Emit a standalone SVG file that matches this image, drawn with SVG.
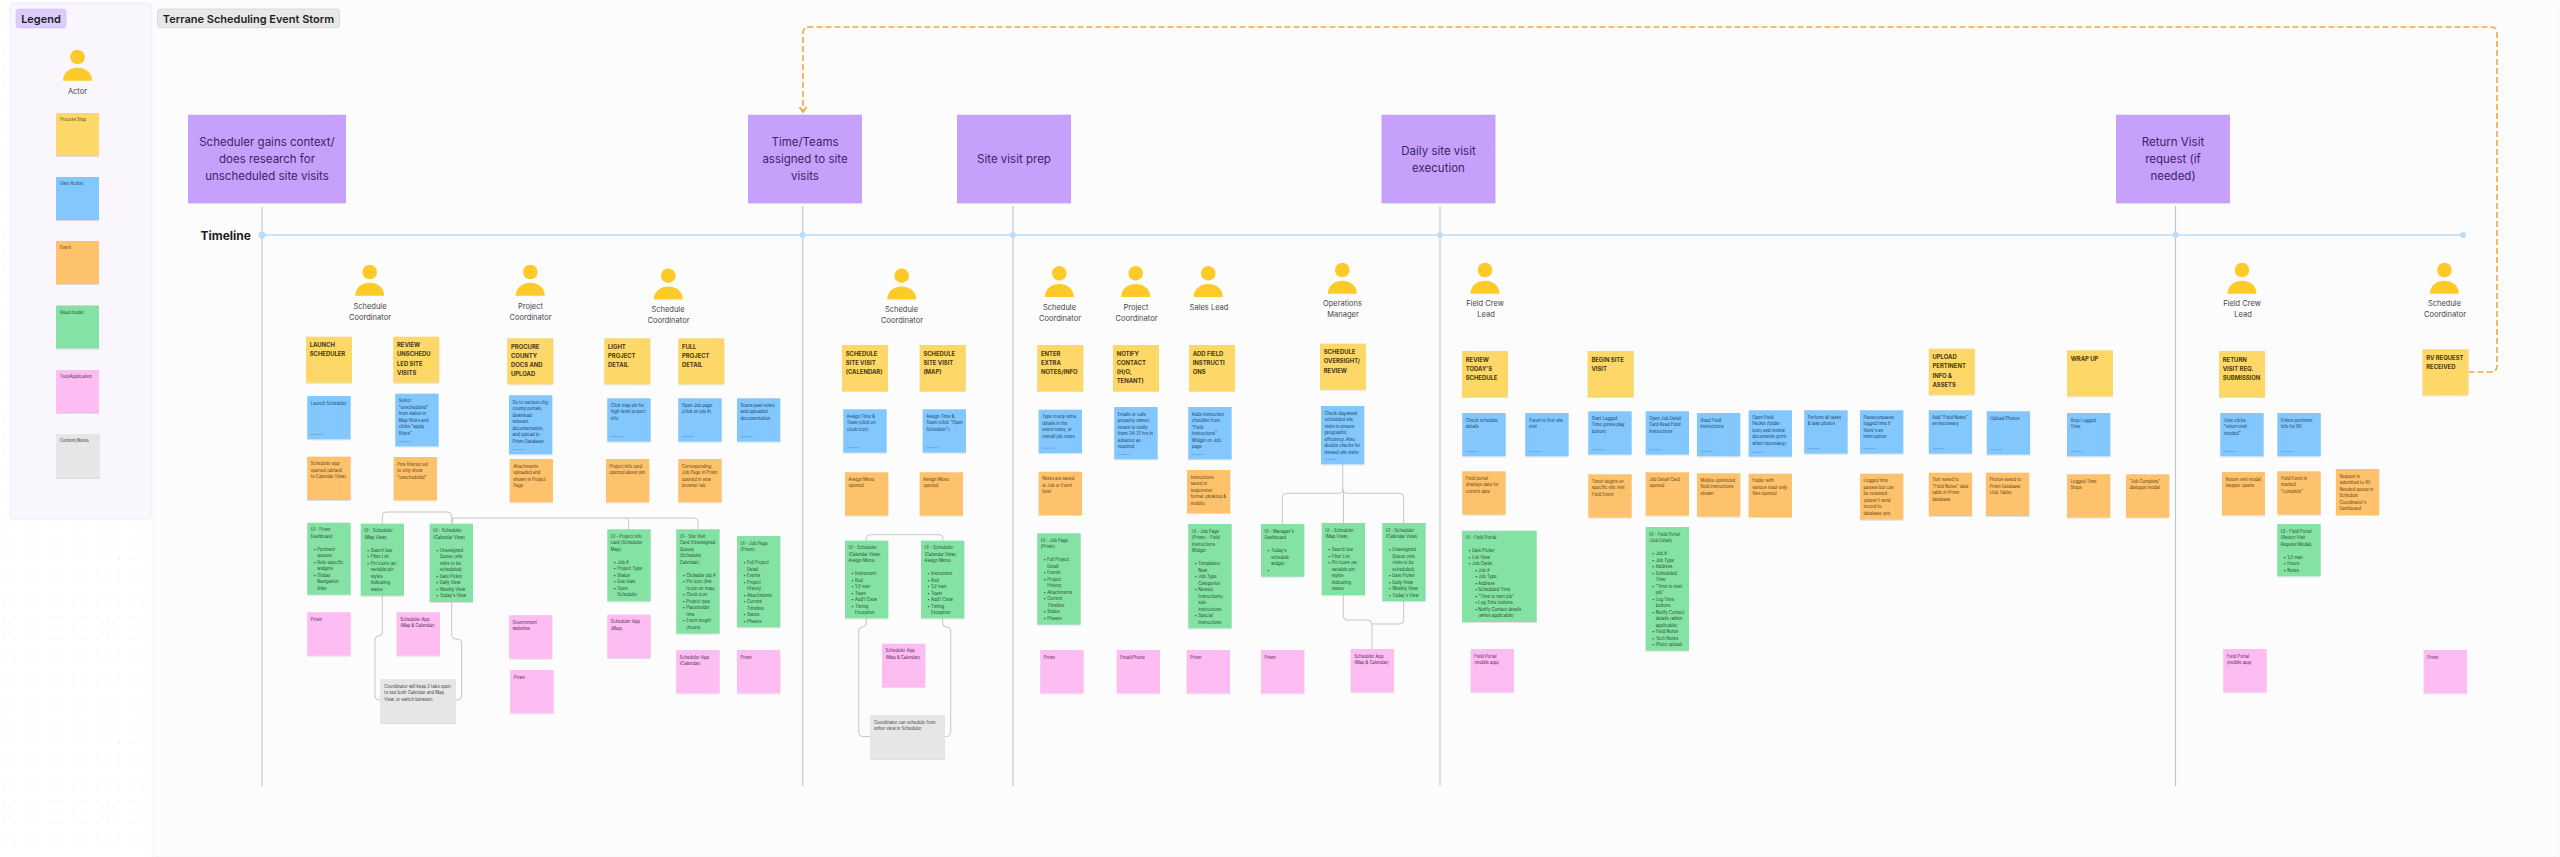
<svg xmlns="http://www.w3.org/2000/svg" width="2560" height="857" viewBox="0 0 2560 857">
<defs>
<pattern id="dots" width="11.5" height="11.5" patternUnits="userSpaceOnUse"><circle cx="4.3" cy="7" r="0.45" fill="#b9b9bd"/></pattern>
<filter id="sh" x="-10%" y="-10%" width="120%" height="120%"><feDropShadow dx="0" dy="0.7" stdDeviation="0.7" flood-color="#000" flood-opacity="0.16"/></filter>
<marker id="chev" markerWidth="9" markerHeight="9" refX="6" refY="4" orient="auto" markerUnits="userSpaceOnUse"><path d="M1 0.5 L6 4 L1 7.5" fill="none" stroke="#f4a63c" stroke-width="1.6"/></marker>
<g id="actor"><circle r="7.3" fill="#fdca2a"/><path d="M-14.5 23.7 C-14.5 15 -7 10.7 0 10.7 S14.5 15 14.5 23.7 Z" fill="#fdca2a"/></g>
</defs>
<style>
text{font-family:Inter,"Liberation Sans",sans-serif}
.y rect,.b rect,.o rect,.g rect,.k rect,.e rect{filter:url(#sh)}
.y rect{fill:#fdd868}.b rect{fill:#82c7fe}.o rect{fill:#fec26c}.g rect{fill:#85e2a5}.k rect{fill:#fdbdf2}.e rect{fill:#e6e6e6}
rect.sig{fill:#3f6f9c;opacity:.4;filter:none}
.n{font-size:4.2px}
.y .n,.o .n{fill:#5a3d10}.b .n{fill:#143c60}.g .n{fill:#1d4a2e}.k .n{fill:#4c1f48}.e .n{fill:#3a3a3a}
.p{font-size:5.9px;font-weight:700;fill:#4b3a12}
.a{font-size:7.5px;fill:#454548;text-anchor:middle}
.h{fill:#c5a1fb}.ht{font-size:11.5px;fill:#3c2468;text-anchor:middle}
.v{stroke:#c4c4c8;stroke-width:1.1;fill:none}
.c{stroke:#c6c6ca;stroke-width:1;fill:none}
.tl{stroke:#b9defb;stroke-width:1.4;fill:none}.td{fill:#b9defb}
</style>
<rect width="2560" height="857" fill="#ffffff"/>
<rect width="2560" height="857" fill="url(#dots)"/>
<rect x="152" y="2" width="2408" height="855" fill="#fcfcfd" stroke="#f2f2f5" stroke-width="0.7"/>
<g id="legend-panel"><rect x="10" y="3" width="141" height="516" rx="2" fill="#f9f6fe" stroke="#eee9f8" stroke-width="0.8"/></g>
<g id="legend-title"><rect x="16" y="9" width="50" height="19" rx="3" fill="#dccbfb" stroke="#d2bff6" stroke-width="0.6"/><text x="41" y="23" text-anchor="middle" font-size="11" font-weight="600" fill="#1d1d20">Legend</text></g>
<g id="board-title"><rect x="157.500" y="9" width="182" height="18.500" rx="3" fill="#e8e8e8" stroke="#cfcfcf" stroke-width="0.7"/><text x="248.500" y="23" text-anchor="middle" font-size="11" font-weight="600" fill="#1d1d20">Terrane Scheduling Event Storm</text></g>
<g id="legend-actor"><use href="#actor" x="77.500" y="57"/><text class="a" x="77.500" y="94">Actor</text></g>
<g id="legend-process" class="y" transform="translate(56 113)"><rect width="43" height="43"/><text class="n" x="4" y="8">Process Step</text></g>
<g id="legend-user" class="b" transform="translate(56 177)"><rect width="43" height="43"/><text class="n" x="4" y="8">User Action</text></g>
<g id="legend-event" class="o" transform="translate(56 241)"><rect width="43" height="43"/><text class="n" x="4" y="8">Event</text></g>
<g id="legend-read" class="g" transform="translate(56 305.500)"><rect width="43" height="43"/><text class="n" x="4" y="8">Read model</text></g>
<g id="legend-tool" class="k" transform="translate(56 370)"><rect width="43" height="43"/><text class="n" x="4" y="8">Tool/Application</text></g>
<g id="legend-notes" class="e" transform="translate(56 434)"><rect width="44" height="44"/><text class="n" x="4" y="8">Content/Notes</text></g>

<g id="connectors">
<path class="v" d="M262 207V786M802.700 206V786M1013 206V786M1440 206V786M2175.500 206V786"/>
<path class="tl" d="M262 235H2463"/>
<circle class="td" cx="262" cy="235" r="3.500"/><circle class="td" cx="802.700" cy="235" r="3"/><circle class="td" cx="1013" cy="235" r="3"/><circle class="td" cx="1440" cy="235" r="3"/><circle class="td" cx="2175.500" cy="235" r="3"/><circle class="td" cx="2463" cy="235" r="3"/>
<path d="M2468.500 372H2491Q2497 372 2497 366V33Q2497 27 2491 27H809Q803 27 803 33V112" fill="none" stroke="#f4a63c" stroke-width="1.600" stroke-dasharray="6 3" marker-end="url(#chev)"/>
<path class="c" d="M382.300 523.700V516Q382.300 512 386.300 512H447.700Q451.700 512 451.700 516V523.700"/>
<path class="c" d="M452.700 523.700V518H624.700Q628.700 518 628.700 522V529.300M624.700 518H694Q698 518 698 522V529.300"/>
<path class="c" d="M382.300 595.700V632Q382.300 636 378.300 636Q375 636 375 640V696Q375 700 379 700H380.300"/>
<path class="c" d="M451.700 602V635Q451.700 639 455.700 639H457.700Q461.700 639 461.700 643V696Q461.700 700 457.700 700H456"/>
<path class="c" d="M866.300 540.700V538.700Q866.300 534.700 870.300 534.700H939Q943 534.700 943 538.700V540.700"/>
<path class="c" d="M866.300 618.400V623Q866.300 627 862.300 627Q858.700 627 858.700 631V732.500Q858.700 736.500 862.700 736.500H870"/>
<path class="c" d="M942.700 618.400V623Q942.700 627 946.700 627Q950.700 627 950.700 631V732.500Q950.700 736.500 946.700 736.500H945"/>
<path class="c" d="M1342.700 464.300V489.300Q1342.700 493.300 1338.700 493.300H1286.300Q1282.300 493.300 1282.300 497.300V524M1342.700 489.300Q1342.700 493.300 1346.700 493.300H1399.700Q1403.700 493.300 1403.700 497.300V523M1343.500 490V523"/>
<path class="c" d="M1343.300 595V616Q1343.300 620 1347.300 620H1368Q1372 620 1372 624V649M1403.700 601V620Q1403.700 624 1399.700 624H1372"/>
</g>

<g id="phase-1"><rect class="h" x="188" y="114.700" width="158" height="88.700"/><text class="ht" x="267" y="146">Scheduler gains context/</text><text class="ht" x="267" y="163.200">does research for</text><text class="ht" x="267" y="180.400">unscheduled site visits</text></g>
<g id="phase-2"><rect class="h" x="748" y="114.700" width="114" height="88.700"/><text class="ht" x="805" y="146">Time/Teams</text><text class="ht" x="805" y="163.200">assigned to site</text><text class="ht" x="805" y="180.400">visits</text></g>
<g id="phase-3"><rect class="h" x="957" y="114.700" width="114" height="88.700"/><text class="ht" x="1014" y="163.200">Site visit prep</text></g>
<g id="phase-4"><rect class="h" x="1381.500" y="114.700" width="114" height="88.700"/><text class="ht" x="1438.500" y="154.500">Daily site visit</text><text class="ht" x="1438.500" y="171.700">execution</text></g>
<g id="phase-5"><rect class="h" x="2116" y="114.700" width="114" height="88.700"/><text class="ht" x="2173" y="146">Return Visit</text><text class="ht" x="2173" y="163.200">request (if</text><text class="ht" x="2173" y="180.400">needed)</text></g>
<text id="timeline-label" x="200.500" y="239.500" font-size="12" font-weight="700" fill="#1d1d20">Timeline</text>

<g id="actor-1"><use href="#actor" x="369.700" y="272"/><text class="a" x="370" y="309">Schedule</text><text class="a" x="370" y="320">Coordinator</text></g>
<g id="actor-2"><use href="#actor" x="530.300" y="272"/><text class="a" x="530.500" y="309">Project</text><text class="a" x="530.500" y="320">Coordinator</text></g>
<g id="actor-3"><use href="#actor" x="668.300" y="275.700"/><text class="a" x="668" y="312">Schedule</text><text class="a" x="668.500" y="323">Coordinator</text></g>
<g id="actor-4"><use href="#actor" x="901.700" y="275.700"/><text class="a" x="901.500" y="312">Schedule</text><text class="a" x="902" y="323">Coordinator</text></g>
<g id="actor-5"><use href="#actor" x="1059.300" y="273.300"/><text class="a" x="1059.500" y="309.500">Schedule</text><text class="a" x="1060" y="320.500">Coordinator</text></g>
<g id="actor-6"><use href="#actor" x="1135.700" y="273.300"/><text class="a" x="1136" y="309.500">Project</text><text class="a" x="1136.500" y="320.500">Coordinator</text></g>
<g id="actor-7"><use href="#actor" x="1208.300" y="273.300"/><text class="a" x="1209" y="309.500">Sales Lead</text></g>
<g id="actor-8"><use href="#actor" x="1342.300" y="270"/><text class="a" x="1342.500" y="306">Operations</text><text class="a" x="1343" y="317">Manager</text></g>
<g id="actor-9"><use href="#actor" x="1485" y="270"/><text class="a" x="1485" y="306">Field Crew</text><text class="a" x="1486" y="317">Lead</text></g>
<g id="actor-10"><use href="#actor" x="2242" y="270"/><text class="a" x="2242" y="306">Field Crew</text><text class="a" x="2243" y="317">Lead</text></g>
<g id="actor-11"><use href="#actor" x="2444.400" y="270"/><text class="a" x="2444.500" y="306">Schedule</text><text class="a" x="2445" y="317">Coordinator</text></g>

<g id="p1" class="y" transform="translate(306 336.700)"><rect width="46" height="46"/><text class="p" y="10.500"><tspan x="3.700">LAUNCH</tspan><tspan x="3.700" dy="9.170">SCHEDULER</tspan></text></g>
<g id="p2" class="y" transform="translate(393.300 336.700)"><rect width="46" height="46"/><text class="p" y="10.500"><tspan x="3.700">REVIEW</tspan><tspan x="3.700" dy="9.170">UNSCHEDU</tspan><tspan x="3.700" dy="9.170">LED SITE</tspan><tspan x="3.700" dy="9.170">VISITS</tspan></text></g>
<g id="p3" class="y" transform="translate(507.300 338.300)"><rect width="46" height="46"/><text class="p" y="10.500"><tspan x="3.700">PROCURE</tspan><tspan x="3.700" dy="9.170">COUNTY</tspan><tspan x="3.700" dy="9.170">DOCS AND</tspan><tspan x="3.700" dy="9.170">UPLOAD</tspan></text></g>
<g id="p4" class="y" transform="translate(604.300 338.300)"><rect width="46" height="46"/><text class="p" y="10.500"><tspan x="3.700">LIGHT</tspan><tspan x="3.700" dy="9.170">PROJECT</tspan><tspan x="3.700" dy="9.170">DETAIL</tspan></text></g>
<g id="p5" class="y" transform="translate(678.300 338.300)"><rect width="46" height="46"/><text class="p" y="10.500"><tspan x="3.700">FULL</tspan><tspan x="3.700" dy="9.170">PROJECT</tspan><tspan x="3.700" dy="9.170">DETAIL</tspan></text></g>
<g id="p6" class="y" transform="translate(842 345)"><rect width="46" height="46"/><text class="p" y="10.500"><tspan x="3.700">SCHEDULE</tspan><tspan x="3.700" dy="9.170">SITE VISIT</tspan><tspan x="3.700" dy="9.170">(CALENDAR)</tspan></text></g>
<g id="p7" class="y" transform="translate(919.700 345)"><rect width="46" height="46"/><text class="p" y="10.500"><tspan x="3.700">SCHEDULE</tspan><tspan x="3.700" dy="9.170">SITE VISIT</tspan><tspan x="3.700" dy="9.170">(MAP)</tspan></text></g>
<g id="p8" class="y" transform="translate(1037.300 345)"><rect width="46" height="46"/><text class="p" y="10.500"><tspan x="3.700">ENTER</tspan><tspan x="3.700" dy="9.170">EXTRA</tspan><tspan x="3.700" dy="9.170">NOTES/INFO</tspan></text></g>
<g id="p9" class="y" transform="translate(1113 345)"><rect width="46" height="46"/><text class="p" y="10.500"><tspan x="3.700">NOTIFY</tspan><tspan x="3.700" dy="9.170">CONTACT</tspan><tspan x="3.700" dy="9.170">(H/O,</tspan><tspan x="3.700" dy="9.170">TENANT)</tspan></text></g>
<g id="p10" class="y" transform="translate(1189 345)"><rect width="46" height="46"/><text class="p" y="10.500"><tspan x="3.700">ADD FIELD</tspan><tspan x="3.700" dy="9.170">INSTRUCTI</tspan><tspan x="3.700" dy="9.170">ONS</tspan></text></g>
<g id="p11" class="y" transform="translate(1320 343.700)"><rect width="46" height="46"/><text class="p" y="10.500"><tspan x="3.700">SCHEDULE</tspan><tspan x="3.700" dy="9.170">OVERSIGHT/</tspan><tspan x="3.700" dy="9.170">REVIEW</tspan></text></g>
<g id="p12" class="y" transform="translate(1462 351)"><rect width="46" height="46"/><text class="p" y="10.500"><tspan x="3.700">REVIEW</tspan><tspan x="3.700" dy="9.170">TODAY'S</tspan><tspan x="3.700" dy="9.170">SCHEDULE</tspan></text></g>
<g id="p13" class="y" transform="translate(1587.700 351)"><rect width="46" height="46"/><text class="p" y="10.500"><tspan x="3.700">BEGIN SITE</tspan><tspan x="3.700" dy="9.170">VISIT</tspan></text></g>
<g id="p14" class="y" transform="translate(1928.800 348.700)"><rect width="46" height="46"/><text class="p" y="10.500"><tspan x="3.700">UPLOAD</tspan><tspan x="3.700" dy="9.170">PERTINENT</tspan><tspan x="3.700" dy="9.170">INFO &amp;</tspan><tspan x="3.700" dy="9.170">ASSETS</tspan></text></g>
<g id="p15" class="y" transform="translate(2067 350.300)"><rect width="46" height="46"/><text class="p" y="10.500"><tspan x="3.700">WRAP UP</tspan></text></g>
<g id="p16" class="y" transform="translate(2219 351)"><rect width="46" height="46"/><text class="p" y="10.500"><tspan x="3.700">RETURN</tspan><tspan x="3.700" dy="9.170">VISIT REQ.</tspan><tspan x="3.700" dy="9.170">SUBMISSION</tspan></text></g>
<g id="p17" class="y" transform="translate(2422.500 349.300)"><rect width="46" height="46"/><text class="p" y="10.500"><tspan x="3.700">RV REQUEST</tspan><tspan x="3.700" dy="9.170">RECEIVED</tspan></text></g>

<g id="u1" class="b" transform="translate(307.300 396)"><rect width="43.300" height="43.300"/><rect class="sig" x="3.500" y="38" width="12" height="0.800"/><text class="n" y="8.500"><tspan x="3.500">Launch Scheduler</tspan></text></g>
<g id="u2" class="b" transform="translate(395.300 393.700)"><rect width="43.300" height="52.700"/><rect class="sig" x="3.500" y="47.400" width="12" height="0.800"/><text class="n" y="8.500"><tspan x="3.500">Select</tspan><tspan x="3.500" dy="6.500">"unscheduled"</tspan><tspan x="3.500" dy="6.500">from status in</tspan><tspan x="3.500" dy="6.500">Map filters and</tspan><tspan x="3.500" dy="6.500">clicks "apply</tspan><tspan x="3.500" dy="6.500">filters"</tspan></text></g>
<g id="u3" class="b" transform="translate(509 395.300)"><rect width="43.300" height="59"/><rect class="sig" x="3.500" y="53.700" width="12" height="0.800"/><text class="n" y="8.500"><tspan x="3.500">Go to various city/</tspan><tspan x="3.500" dy="6.500">county portals,</tspan><tspan x="3.500" dy="6.500">download</tspan><tspan x="3.500" dy="6.500">relevant</tspan><tspan x="3.500" dy="6.500">documentation,</tspan><tspan x="3.500" dy="6.500">and upload to</tspan><tspan x="3.500" dy="6.500">Prism Database</tspan></text></g>
<g id="u4" class="b" transform="translate(607.300 398.300)"><rect width="43.300" height="43.300"/><rect class="sig" x="3.500" y="38" width="12" height="0.800"/><text class="n" y="8.500"><tspan x="3.500">Click map pin for</tspan><tspan x="3.500" dy="6.500">high-level project</tspan><tspan x="3.500" dy="6.500">info</tspan></text></g>
<g id="u5" class="b" transform="translate(678.300 398.300)"><rect width="43.300" height="43.300"/><rect class="sig" x="3.500" y="38" width="12" height="0.800"/><text class="n" y="8.500"><tspan x="3.500">Open Job page</tspan><tspan x="3.500" dy="6.500">(click on job #)</tspan></text></g>
<g id="u6" class="b" transform="translate(737 398.300)"><rect width="43.300" height="43.300"/><rect class="sig" x="3.500" y="38" width="12" height="0.800"/><text class="n" y="8.500"><tspan x="3.500">Scans past notes</tspan><tspan x="3.500" dy="6.500">and uploaded</tspan><tspan x="3.500" dy="6.500">documentation</tspan></text></g>
<g id="u7" class="b" transform="translate(843.300 409.300)"><rect width="43.300" height="43.300"/><rect class="sig" x="3.500" y="38" width="12" height="0.800"/><text class="n" y="8.500"><tspan x="3.500">Assign Time &amp;</tspan><tspan x="3.500" dy="6.500">Team [click on</tspan><tspan x="3.500" dy="6.500">clock icon]</tspan></text></g>
<g id="u8" class="b" transform="translate(922.700 409.300)"><rect width="43.300" height="43.300"/><rect class="sig" x="3.500" y="38" width="12" height="0.800"/><text class="n" y="8.500"><tspan x="3.500">Assign Time &amp;</tspan><tspan x="3.500" dy="6.500">Team [click "Open</tspan><tspan x="3.500" dy="6.500">Scheduler"]</tspan></text></g>
<g id="u9" class="b" transform="translate(1038.700 409.700)"><rect width="43.300" height="43.300"/><rect class="sig" x="3.500" y="38" width="12" height="0.800"/><text class="n" y="8.500"><tspan x="3.500">Type in any extra</tspan><tspan x="3.500" dy="6.500">details in the</tspan><tspan x="3.500" dy="6.500">event notes, or</tspan><tspan x="3.500" dy="6.500">overall job notes</tspan></text></g>
<g id="u10" class="b" transform="translate(1114.300 407)"><rect width="43.300" height="52.300"/><rect class="sig" x="3.500" y="47" width="12" height="0.800"/><text class="n" y="8.500"><tspan x="3.500">Emails or calls</tspan><tspan x="3.500" dy="6.500">property owner/</tspan><tspan x="3.500" dy="6.500">tenant to notify</tspan><tspan x="3.500" dy="6.500">them 24-72 hrs in</tspan><tspan x="3.500" dy="6.500">advance as</tspan><tspan x="3.500" dy="6.500">required</tspan></text></g>
<g id="u11" class="b" transform="translate(1188.300 407)"><rect width="43.300" height="52.300"/><rect class="sig" x="3.500" y="47" width="12" height="0.800"/><text class="n" y="8.500"><tspan x="3.500">Adds instruction</tspan><tspan x="3.500" dy="6.500">checklist from</tspan><tspan x="3.500" dy="6.500">"Field</tspan><tspan x="3.500" dy="6.500">Instructions"</tspan><tspan x="3.500" dy="6.500">Widget on Job</tspan><tspan x="3.500" dy="6.500">page</tspan></text></g>
<g id="u12" class="b" transform="translate(1321 406)"><rect width="43.300" height="58.300"/><rect class="sig" x="3.500" y="53" width="12" height="0.800"/><text class="n" y="8.500"><tspan x="3.500">Check day/week</tspan><tspan x="3.500" dy="6.500">scheduled site</tspan><tspan x="3.500" dy="6.500">visits to ensure</tspan><tspan x="3.500" dy="6.500">geographic</tspan><tspan x="3.500" dy="6.500">efficiency. Also</tspan><tspan x="3.500" dy="6.500">double checks for</tspan><tspan x="3.500" dy="6.500">missed site visits</tspan></text></g>
<g id="u13" class="b" transform="translate(1462.300 413)"><rect width="43.300" height="43.300"/><rect class="sig" x="3.500" y="38" width="12" height="0.800"/><text class="n" y="8.500"><tspan x="3.500">Check schedule</tspan><tspan x="3.500" dy="6.500">details</tspan></text></g>
<g id="u14" class="b" transform="translate(1525.300 413)"><rect width="43.300" height="43.300"/><rect class="sig" x="3.500" y="38" width="12" height="0.800"/><text class="n" y="8.500"><tspan x="3.500">Travel to first site</tspan><tspan x="3.500" dy="6.500">visit</tspan></text></g>
<g id="u15" class="b" transform="translate(1588.300 411.300)"><rect width="43.300" height="43.300"/><rect class="sig" x="3.500" y="38" width="12" height="0.800"/><text class="n" y="8.500"><tspan x="3.500">Start Logged</tspan><tspan x="3.500" dy="6.500">Time (press play</tspan><tspan x="3.500" dy="6.500">button)</tspan></text></g>
<g id="u16" class="b" transform="translate(1645.700 411.300)"><rect width="43.300" height="43.300"/><rect class="sig" x="3.500" y="38" width="12" height="0.800"/><text class="n" y="8.500"><tspan x="3.500">Open Job Detail</tspan><tspan x="3.500" dy="6.500">Card Read Field</tspan><tspan x="3.500" dy="6.500">Instructions</tspan></text></g>
<g id="u17" class="b" transform="translate(1697 413)"><rect width="43.300" height="43.300"/><rect class="sig" x="3.500" y="38" width="12" height="0.800"/><text class="n" y="8.500"><tspan x="3.500">Read Field</tspan><tspan x="3.500" dy="6.500">Instructions</tspan></text></g>
<g id="u18" class="b" transform="translate(1748.700 410.300)"><rect width="43.300" height="46.300"/><rect class="sig" x="3.500" y="41.500" width="12" height="0.800"/><text class="n" y="8.500"><tspan x="3.500">Open Field</tspan><tspan x="3.500" dy="6.500">Packet (folder</tspan><tspan x="3.500" dy="6.500">icon) and review</tspan><tspan x="3.500" dy="6.500">documents (print</tspan><tspan x="3.500" dy="6.500">when necessary)</tspan></text></g>
<g id="u19" class="b" transform="translate(1804.300 410.300)"><rect width="43.300" height="43.300"/><rect class="sig" x="3.500" y="38" width="12" height="0.800"/><text class="n" y="8.500"><tspan x="3.500">Perform all tasks</tspan><tspan x="3.500" dy="6.500">&amp; take photos</tspan></text></g>
<g id="u20" class="b" transform="translate(1860 410.300)"><rect width="43.300" height="43.300"/><rect class="sig" x="3.500" y="38" width="12" height="0.800"/><text class="n" y="8.500"><tspan x="3.500">Pause/unpause</tspan><tspan x="3.500" dy="6.500">logged time if</tspan><tspan x="3.500" dy="6.500">there's an</tspan><tspan x="3.500" dy="6.500">interruption</tspan></text></g>
<g id="u21" class="b" transform="translate(1928.800 410.300)"><rect width="43.300" height="43.300"/><rect class="sig" x="3.500" y="38" width="12" height="0.800"/><text class="n" y="8.500"><tspan x="3.500">Add "Field Notes"</tspan><tspan x="3.500" dy="6.500">as necessary</tspan></text></g>
<g id="u22" class="b" transform="translate(1986.800 411.300)"><rect width="43.300" height="43.300"/><rect class="sig" x="3.500" y="38" width="12" height="0.800"/><text class="n" y="8.500"><tspan x="3.500">Upload Photos</tspan></text></g>
<g id="u23" class="b" transform="translate(2067 413)"><rect width="43.300" height="43.300"/><rect class="sig" x="3.500" y="38" width="12" height="0.800"/><text class="n" y="8.500"><tspan x="3.500">Stop Logged</tspan><tspan x="3.500" dy="6.500">Time</tspan></text></g>
<g id="u24" class="b" transform="translate(2220.300 413)"><rect width="43.300" height="43.300"/><rect class="sig" x="3.500" y="38" width="12" height="0.800"/><text class="n" y="8.500"><tspan x="3.500">User clicks</tspan><tspan x="3.500" dy="6.500">"return visit</tspan><tspan x="3.500" dy="6.500">needed"</tspan></text></g>
<g id="u25" class="b" transform="translate(2277.400 413)"><rect width="43.300" height="43.300"/><rect class="sig" x="3.500" y="38" width="12" height="0.800"/><text class="n" y="8.500"><tspan x="3.500">Enters pertinent</tspan><tspan x="3.500" dy="6.500">info for RV</tspan></text></g>

<g id="e1" class="o" transform="translate(307.300 456.700)"><rect width="43.300" height="43.300"/><text class="n" y="8.500"><tspan x="3.500">Scheduler app</tspan><tspan x="3.500" dy="6.500">opened (default</tspan><tspan x="3.500" dy="6.500">to Calendar View)</tspan></text></g>
<g id="e2" class="o" transform="translate(393.700 457)"><rect width="43.300" height="43.300"/><text class="n" y="8.500"><tspan x="3.500">Pins filtered out</tspan><tspan x="3.500" dy="6.500">to only show</tspan><tspan x="3.500" dy="6.500">"unscheduled"</tspan></text></g>
<g id="e3" class="o" transform="translate(509.700 459)"><rect width="43.300" height="43.300"/><text class="n" y="8.500"><tspan x="3.500">Attachments</tspan><tspan x="3.500" dy="6.500">uploaded and</tspan><tspan x="3.500" dy="6.500">shown in Project</tspan><tspan x="3.500" dy="6.500">Page</tspan></text></g>
<g id="e4" class="o" transform="translate(606 459)"><rect width="43.300" height="43.300"/><text class="n" y="8.500"><tspan x="3.500">Project info card</tspan><tspan x="3.500" dy="6.500">opened above pin</tspan></text></g>
<g id="e5" class="o" transform="translate(678.300 459)"><rect width="43.300" height="43.300"/><text class="n" y="8.500"><tspan x="3.500">Corresponding</tspan><tspan x="3.500" dy="6.500">Job Page in Prism</tspan><tspan x="3.500" dy="6.500">opened in new</tspan><tspan x="3.500" dy="6.500">browser tab</tspan></text></g>
<g id="e6" class="o" transform="translate(845 472.300)"><rect width="43.300" height="43.300"/><text class="n" y="8.500"><tspan x="3.500">Assign Menu</tspan><tspan x="3.500" dy="6.500">opened</tspan></text></g>
<g id="e7" class="o" transform="translate(919.700 472.300)"><rect width="43.300" height="43.300"/><text class="n" y="8.500"><tspan x="3.500">Assign Menu</tspan><tspan x="3.500" dy="6.500">opened</tspan></text></g>
<g id="e8" class="o" transform="translate(1038.700 471.700)"><rect width="43.300" height="43.300"/><text class="n" y="8.500"><tspan x="3.500">Notes are saved</tspan><tspan x="3.500" dy="6.500">at Job or Event</tspan><tspan x="3.500" dy="6.500">level</tspan></text></g>
<g id="e9" class="o" transform="translate(1187 470)"><rect width="43.300" height="43.300"/><text class="n" y="8.500"><tspan x="3.500">Instructions</tspan><tspan x="3.500" dy="6.500">saved in</tspan><tspan x="3.500" dy="6.500">responsive</tspan><tspan x="3.500" dy="6.500">format (desktop &amp;</tspan><tspan x="3.500" dy="6.500">mobile)</tspan></text></g>
<g id="e10" class="o" transform="translate(1462.300 471.300)"><rect width="43.300" height="43.300"/><text class="n" y="8.500"><tspan x="3.500">Field portal</tspan><tspan x="3.500" dy="6.500">displays data for</tspan><tspan x="3.500" dy="6.500">current date</tspan></text></g>
<g id="e11" class="o" transform="translate(1588.300 474.300)"><rect width="43.300" height="43.300"/><text class="n" y="8.500"><tspan x="3.500">Timer begins on</tspan><tspan x="3.500" dy="6.500">specific site visit</tspan><tspan x="3.500" dy="6.500">Field Event</tspan></text></g>
<g id="e12" class="o" transform="translate(1645.700 472.300)"><rect width="43.300" height="43.300"/><text class="n" y="8.500"><tspan x="3.500">Job Detail Card</tspan><tspan x="3.500" dy="6.500">opened</tspan></text></g>
<g id="e13" class="o" transform="translate(1697 473.300)"><rect width="43.300" height="43.300"/><text class="n" y="8.500"><tspan x="3.500">Mobile-optimized</tspan><tspan x="3.500" dy="6.500">field instructions</tspan><tspan x="3.500" dy="6.500">shown</tspan></text></g>
<g id="e14" class="o" transform="translate(1748.700 473.700)"><rect width="43.300" height="43.300"/><text class="n" y="8.500"><tspan x="3.500">Folder with</tspan><tspan x="3.500" dy="6.500">various read-only</tspan><tspan x="3.500" dy="6.500">files opened</tspan></text></g>
<g id="e15" class="o" transform="translate(1860 473.700)"><rect width="43.300" height="46"/><text class="n" y="8.500"><tspan x="3.500">Logged time</tspan><tspan x="3.500" dy="6.500">pauses but can</tspan><tspan x="3.500" dy="6.500">be resumed</tspan><tspan x="3.500" dy="6.500">(doesn't send</tspan><tspan x="3.500" dy="6.500">record to</tspan><tspan x="3.500" dy="6.500">database yet)</tspan></text></g>
<g id="e16" class="o" transform="translate(1928.800 472.700)"><rect width="43.300" height="43.300"/><text class="n" y="8.500"><tspan x="3.500">Text saved to</tspan><tspan x="3.500" dy="6.500">"Field Notes" data</tspan><tspan x="3.500" dy="6.500">table in Prism</tspan><tspan x="3.500" dy="6.500">database</tspan></text></g>
<g id="e17" class="o" transform="translate(1985.900 472.700)"><rect width="43.300" height="43.300"/><text class="n" y="8.500"><tspan x="3.500">Photos saved to</tspan><tspan x="3.500" dy="6.500">Prism Database</tspan><tspan x="3.500" dy="6.500">(Job Table)</tspan></text></g>
<g id="e18" class="o" transform="translate(2067 474.300)"><rect width="43.300" height="43.300"/><text class="n" y="8.500"><tspan x="3.500">Logged Time</tspan><tspan x="3.500" dy="6.500">Stops</tspan></text></g>
<g id="e19" class="o" transform="translate(2126 474.300)"><rect width="43.300" height="43.300"/><text class="n" y="8.500"><tspan x="3.500">"Job Complete"</tspan><tspan x="3.500" dy="6.500">dialogue modal</tspan></text></g>
<g id="e20" class="o" transform="translate(2222 472)"><rect width="43" height="43.300"/><text class="n" y="8.500"><tspan x="3.500">Return visit modal</tspan><tspan x="3.500" dy="6.500">stepper opens</tspan></text></g>
<g id="e21" class="o" transform="translate(2277.400 471.300)"><rect width="43.300" height="43.300"/><text class="n" y="8.500"><tspan x="3.500">Field Event is</tspan><tspan x="3.500" dy="6.500">marked</tspan><tspan x="3.500" dy="6.500">"complete"</tspan></text></g>
<g id="e22" class="o" transform="translate(2335.900 469)"><rect width="43.300" height="46"/><text class="n" y="8.500"><tspan x="3.500">Request is</tspan><tspan x="3.500" dy="6.500">submitted to RV</tspan><tspan x="3.500" dy="6.500">Needed queue in</tspan><tspan x="3.500" dy="6.500">Schedule</tspan><tspan x="3.500" dy="6.500">Coordinator's</tspan><tspan x="3.500" dy="6.500">Dashboard</tspan></text></g>

<g id="g1" class="g" transform="translate(307.300 522.700)"><rect width="43.300" height="72"/><text class="n" y="8.500"><tspan x="3.500">UI - Prism</tspan><tspan x="3.500" dy="6.500">Dashboard</tspan><tspan x="6.300" dy="13">•</tspan><tspan x="10">Pertinent</tspan><tspan x="10" dy="6.500">queues</tspan><tspan x="6.300" dy="6.500">•</tspan><tspan x="10">Role-specific</tspan><tspan x="10" dy="6.500">widgets</tspan><tspan x="6.300" dy="6.500">•</tspan><tspan x="10">Global</tspan><tspan x="10" dy="6.500">Navigation</tspan><tspan x="10" dy="6.500">links</tspan></text></g>
<g id="g2" class="g" transform="translate(360.700 523.700)"><rect width="43.300" height="72"/><text class="n" y="8.500"><tspan x="3.500">UI - Scheduler</tspan><tspan x="3.500" dy="6.500">(Map View)</tspan><tspan x="6.300" dy="13">•</tspan><tspan x="10">Search bar</tspan><tspan x="6.300" dy="6.500">•</tspan><tspan x="10">Filter List</tspan><tspan x="6.300" dy="6.500">•</tspan><tspan x="10">Pin Icons (w/</tspan><tspan x="10" dy="6.500">variable pin</tspan><tspan x="10" dy="6.500">styles</tspan><tspan x="10" dy="6.500">indicating</tspan><tspan x="10" dy="6.500">status</tspan></text></g>
<g id="g3" class="g" transform="translate(429.700 523.700)"><rect width="43.300" height="78.300"/><text class="n" y="8.500"><tspan x="3.500">UI - Scheduler</tspan><tspan x="3.500" dy="6.500">(Calendar View)</tspan><tspan x="6.300" dy="13">•</tspan><tspan x="10">Unassigned</tspan><tspan x="10" dy="6.500">Queue (site</tspan><tspan x="10" dy="6.500">visits to be</tspan><tspan x="10" dy="6.500">scheduled)</tspan><tspan x="6.300" dy="6.500">•</tspan><tspan x="10">Date Picker</tspan><tspan x="6.300" dy="6.500">•</tspan><tspan x="10">Daily View</tspan><tspan x="6.300" dy="6.500">•</tspan><tspan x="10">Weekly View</tspan><tspan x="6.300" dy="6.500">•</tspan><tspan x="10">Today's View</tspan></text></g>
<g id="g4" class="g" transform="translate(607.300 529.300)"><rect width="43.300" height="72"/><text class="n" y="8.500"><tspan x="3.500">UI - Project info</tspan><tspan x="3.500" dy="6.500">card [Scheduler</tspan><tspan x="3.500" dy="6.500">Map]</tspan><tspan x="6.300" dy="13">•</tspan><tspan x="10">Job #</tspan><tspan x="6.300" dy="6.500">•</tspan><tspan x="10">Project Type</tspan><tspan x="6.300" dy="6.500">•</tspan><tspan x="10">Status</tspan><tspan x="6.300" dy="6.500">•</tspan><tspan x="10">Due Date</tspan><tspan x="6.300" dy="6.500">•</tspan><tspan x="10">Open</tspan><tspan x="10" dy="6.500">Scheduler</tspan></text></g>
<g id="g5" class="g" transform="translate(676.300 529.300)"><rect width="43.300" height="104.300"/><text class="n" y="8.500"><tspan x="3.500">UI - Site Visit</tspan><tspan x="3.500" dy="6.500">Card (Unassigned</tspan><tspan x="3.500" dy="6.500">Queue)</tspan><tspan x="3.500" dy="6.500">[Scheduler</tspan><tspan x="3.500" dy="6.500">Calendar]</tspan><tspan x="6.300" dy="13">•</tspan><tspan x="10">Clickable job #</tspan><tspan x="6.300" dy="6.500">•</tspan><tspan x="10">Pin icon (link</tspan><tspan x="10" dy="6.500">to pin on map)</tspan><tspan x="6.300" dy="6.500">•</tspan><tspan x="10">Clock icon</tspan><tspan x="6.300" dy="6.500">•</tspan><tspan x="10">Project type</tspan><tspan x="6.300" dy="6.500">•</tspan><tspan x="10">Placeholder</tspan><tspan x="10" dy="6.500">time</tspan><tspan x="6.300" dy="6.500">•</tspan><tspan x="10">Event length</tspan><tspan x="10" dy="6.500">(hours)</tspan></text></g>
<g id="g6" class="g" transform="translate(737 536)"><rect width="43.300" height="91.300"/><text class="n" y="8.500"><tspan x="3.500">UI - Job Page</tspan><tspan x="3.500" dy="6.500">[Prism]</tspan><tspan x="6.300" dy="13">•</tspan><tspan x="10">Full Project</tspan><tspan x="10" dy="6.500">Detail</tspan><tspan x="6.300" dy="6.500">•</tspan><tspan x="10">Events</tspan><tspan x="6.300" dy="6.500">•</tspan><tspan x="10">Project</tspan><tspan x="10" dy="6.500">History</tspan><tspan x="6.300" dy="6.500">•</tspan><tspan x="10">Attachments</tspan><tspan x="6.300" dy="6.500">•</tspan><tspan x="10">Current</tspan><tspan x="10" dy="6.500">Timeline</tspan><tspan x="6.300" dy="6.500">•</tspan><tspan x="10">Status</tspan><tspan x="6.300" dy="6.500">•</tspan><tspan x="10">Phases</tspan></text></g>
<g id="g7" class="g" transform="translate(845 540.700)"><rect width="43.300" height="77.700"/><text class="n" y="8.500"><tspan x="3.500">UI - Scheduler</tspan><tspan x="3.500" dy="6.500">(Calendar View)</tspan><tspan x="3.500" dy="6.500">Assign Menu:</tspan><tspan x="6.300" dy="13">•</tspan><tspan x="10">Instrument</tspan><tspan x="6.300" dy="6.500">•</tspan><tspan x="10">Rod</tspan><tspan x="6.300" dy="6.500">•</tspan><tspan x="10">1/2 man</tspan><tspan x="6.300" dy="6.500">•</tspan><tspan x="10">Team</tspan><tspan x="6.300" dy="6.500">•</tspan><tspan x="10">Add'l Crew</tspan><tspan x="6.300" dy="6.500">•</tspan><tspan x="10">Timing</tspan><tspan x="10" dy="6.500">Exception</tspan></text></g>
<g id="g8" class="g" transform="translate(921 540.700)"><rect width="43.300" height="77.700"/><text class="n" y="8.500"><tspan x="3.500">UI - Scheduler</tspan><tspan x="3.500" dy="6.500">(Calendar View)</tspan><tspan x="3.500" dy="6.500">Assign Menu:</tspan><tspan x="6.300" dy="13">•</tspan><tspan x="10">Instrument</tspan><tspan x="6.300" dy="6.500">•</tspan><tspan x="10">Rod</tspan><tspan x="6.300" dy="6.500">•</tspan><tspan x="10">1/2 man</tspan><tspan x="6.300" dy="6.500">•</tspan><tspan x="10">Team</tspan><tspan x="6.300" dy="6.500">•</tspan><tspan x="10">Add'l Crew</tspan><tspan x="6.300" dy="6.500">•</tspan><tspan x="10">Timing</tspan><tspan x="10" dy="6.500">Exception</tspan></text></g>
<g id="g9" class="g" transform="translate(1037.300 533.300)"><rect width="43.300" height="91.300"/><text class="n" y="8.500"><tspan x="3.500">UI - Job Page</tspan><tspan x="3.500" dy="6.500">[Prism]</tspan><tspan x="6.300" dy="13">•</tspan><tspan x="10">Full Project</tspan><tspan x="10" dy="6.500">Detail</tspan><tspan x="6.300" dy="6.500">•</tspan><tspan x="10">Events</tspan><tspan x="6.300" dy="6.500">•</tspan><tspan x="10">Project</tspan><tspan x="10" dy="6.500">History</tspan><tspan x="6.300" dy="6.500">•</tspan><tspan x="10">Attachments</tspan><tspan x="6.300" dy="6.500">•</tspan><tspan x="10">Current</tspan><tspan x="10" dy="6.500">Timeline</tspan><tspan x="6.300" dy="6.500">•</tspan><tspan x="10">Status</tspan><tspan x="6.300" dy="6.500">•</tspan><tspan x="10">Phases</tspan></text></g>
<g id="g10" class="g" transform="translate(1188.300 524)"><rect width="43.300" height="104.300"/><text class="n" y="8.500"><tspan x="3.500">UI - Job Page</tspan><tspan x="3.500" dy="6.500">[Prism] - Field</tspan><tspan x="3.500" dy="6.500">Instructions</tspan><tspan x="3.500" dy="6.500">Widget</tspan><tspan x="6.300" dy="13">•</tspan><tspan x="10">Templates/</tspan><tspan x="10" dy="6.500">New</tspan><tspan x="6.300" dy="6.500">•</tspan><tspan x="10">Job Type</tspan><tspan x="10" dy="6.500">Categories</tspan><tspan x="6.300" dy="6.500">•</tspan><tspan x="10">Nested</tspan><tspan x="10" dy="6.500">Instructions/</tspan><tspan x="10" dy="6.500">sub-</tspan><tspan x="10" dy="6.500">instructions</tspan><tspan x="6.300" dy="6.500">•</tspan><tspan x="10">Special</tspan><tspan x="10" dy="6.500">Instructions</tspan></text></g>
<g id="g11" class="g" transform="translate(1261 524)"><rect width="43.300" height="52.700"/><text class="n" y="8.500"><tspan x="3.500">UI - Manager's</tspan><tspan x="3.500" dy="6.500">Dashboard</tspan><tspan x="6.300" dy="13">•</tspan><tspan x="10">Today's</tspan><tspan x="10" dy="6.500">schedule</tspan><tspan x="10" dy="6.500">widget</tspan><tspan x="6.300" dy="6.500">•</tspan></text></g>
<g id="g12" class="g" transform="translate(1321.700 523)"><rect width="43.300" height="72"/><text class="n" y="8.500"><tspan x="3.500">UI - Scheduler</tspan><tspan x="3.500" dy="6.500">(Map View)</tspan><tspan x="6.300" dy="13">•</tspan><tspan x="10">Search bar</tspan><tspan x="6.300" dy="6.500">•</tspan><tspan x="10">Filter List</tspan><tspan x="6.300" dy="6.500">•</tspan><tspan x="10">Pin Icons (w/</tspan><tspan x="10" dy="6.500">variable pin</tspan><tspan x="10" dy="6.500">styles</tspan><tspan x="10" dy="6.500">indicating</tspan><tspan x="10" dy="6.500">status</tspan></text></g>
<g id="g13" class="g" transform="translate(1382.300 523)"><rect width="43.300" height="78"/><text class="n" y="8.500"><tspan x="3.500">UI - Scheduler</tspan><tspan x="3.500" dy="6.500">(Calendar View)</tspan><tspan x="6.300" dy="13">•</tspan><tspan x="10">Unassigned</tspan><tspan x="10" dy="6.500">Queue (site</tspan><tspan x="10" dy="6.500">visits to be</tspan><tspan x="10" dy="6.500">scheduled)</tspan><tspan x="6.300" dy="6.500">•</tspan><tspan x="10">Date Picker</tspan><tspan x="6.300" dy="6.500">•</tspan><tspan x="10">Daily View</tspan><tspan x="6.300" dy="6.500">•</tspan><tspan x="10">Weekly View</tspan><tspan x="6.300" dy="6.500">•</tspan><tspan x="10">Today's View</tspan></text></g>
<g id="g14" class="g" transform="translate(1462 530.700)"><rect width="74.700" height="91.300"/><text class="n" y="8.500"><tspan x="3.500">UI - Field Portal</tspan><tspan x="6.300" dy="13">•</tspan><tspan x="10">Date Picker</tspan><tspan x="6.300" dy="6.500">•</tspan><tspan x="10">List View</tspan><tspan x="6.300" dy="6.500">•</tspan><tspan x="10">Job Cards</tspan><tspan x="13" dy="6.500">•</tspan><tspan x="16.300">Job #</tspan><tspan x="13" dy="6.500">•</tspan><tspan x="16.300">Job Type</tspan><tspan x="13" dy="6.500">•</tspan><tspan x="16.300">Address</tspan><tspan x="13" dy="6.500">•</tspan><tspan x="16.300">Scheduled Time</tspan><tspan x="13" dy="6.500">•</tspan><tspan x="16.300">"Time to next job"</tspan><tspan x="13" dy="6.500">•</tspan><tspan x="16.300">Log Time buttons</tspan><tspan x="13" dy="6.500">•</tspan><tspan x="16.300">Notify Contact details</tspan><tspan x="16.300" dy="6.500">(when applicable)</tspan></text></g>
<g id="g15" class="g" transform="translate(1645.700 527)"><rect width="43.300" height="123.700"/><text class="n" y="8.500"><tspan x="3.500">UI - Field Portal</tspan><tspan x="3.500" dy="6.500">(Job Detail)</tspan><tspan x="6.300" dy="13">•</tspan><tspan x="10">Job #</tspan><tspan x="6.300" dy="6.500">•</tspan><tspan x="10">Job Type</tspan><tspan x="6.300" dy="6.500">•</tspan><tspan x="10">Address</tspan><tspan x="6.300" dy="6.500">•</tspan><tspan x="10">Scheduled</tspan><tspan x="10" dy="6.500">Time</tspan><tspan x="6.300" dy="6.500">•</tspan><tspan x="10">"Time to next</tspan><tspan x="10" dy="6.500">job"</tspan><tspan x="6.300" dy="6.500">•</tspan><tspan x="10">Log Time</tspan><tspan x="10" dy="6.500">buttons</tspan><tspan x="6.300" dy="6.500">•</tspan><tspan x="10">Notify Contact</tspan><tspan x="10" dy="6.500">details (when</tspan><tspan x="10" dy="6.500">applicable)</tspan><tspan x="6.300" dy="6.500">•</tspan><tspan x="10">Field Notes</tspan><tspan x="6.300" dy="6.500">•</tspan><tspan x="10">Tech Notes</tspan><tspan x="6.300" dy="6.500">•</tspan><tspan x="10">Photo upload</tspan></text></g>
<g id="g16" class="g" transform="translate(2277.300 524)"><rect width="43.300" height="52.300"/><text class="n" y="8.500"><tspan x="3.500">UI - Field Portal</tspan><tspan x="3.500" dy="6.500">(Return Visit</tspan><tspan x="3.500" dy="6.500">Request Modal)</tspan><tspan x="6.300" dy="13">•</tspan><tspan x="10">1/2 man</tspan><tspan x="6.300" dy="6.500">•</tspan><tspan x="10">Hours</tspan><tspan x="6.300" dy="6.500">•</tspan><tspan x="10">Notes</tspan></text></g>

<g id="t1" class="k" transform="translate(307.300 612.300)"><rect width="43.300" height="43.300"/><text class="n" x="3.500" y="8.500">Prism</text></g>
<g id="t2" class="k" transform="translate(396.700 612.300)"><rect width="43.300" height="43.300"/><text class="n" y="8.500"><tspan x="3.500">Scheduler App</tspan><tspan x="3.500" dy="6.500">(Map &amp; Calendar)</tspan></text></g>
<g id="t3" class="k" transform="translate(509 615.300)"><rect width="43.300" height="43.300"/><text class="n" y="8.500"><tspan x="3.500">Government</tspan><tspan x="3.500" dy="6.500">websites</tspan></text></g>
<g id="t4" class="k" transform="translate(510.300 670)"><rect width="43.300" height="43.300"/><text class="n" x="3.500" y="8.500">Prism</text></g>
<g id="t5" class="k" transform="translate(607.300 614.700)"><rect width="43.300" height="43.300"/><text class="n" y="8.500"><tspan x="3.500">Scheduler App</tspan><tspan x="3.500" dy="6.500">(Map)</tspan></text></g>
<g id="t6" class="k" transform="translate(676.300 650)"><rect width="43.300" height="43.300"/><text class="n" y="8.500"><tspan x="3.500">Scheduler App</tspan><tspan x="3.500" dy="6.500">(Calendar)</tspan></text></g>
<g id="t7" class="k" transform="translate(737 650)"><rect width="43.300" height="43.300"/><text class="n" x="3.500" y="8.500">Prism</text></g>
<g id="t8" class="k" transform="translate(882 643.700)"><rect width="43.300" height="43.300"/><text class="n" y="8.500"><tspan x="3.500">Scheduler App</tspan><tspan x="3.500" dy="6.500">(Map &amp; Calendar)</tspan></text></g>
<g id="t9" class="k" transform="translate(1040.300 650)"><rect width="43.300" height="43.300"/><text class="n" x="3.500" y="8.500">Prism</text></g>
<g id="t10" class="k" transform="translate(1116.700 650)"><rect width="43.300" height="43.300"/><text class="n" x="3.500" y="8.500">Email/Phone</text></g>
<g id="t11" class="k" transform="translate(1186.700 650)"><rect width="43.300" height="43.300"/><text class="n" x="3.500" y="8.500">Prism</text></g>
<g id="t12" class="k" transform="translate(1261 650)"><rect width="43.300" height="43.300"/><text class="n" x="3.500" y="8.500">Prism</text></g>
<g id="t13" class="k" transform="translate(1350.700 649)"><rect width="43.300" height="43.300"/><text class="n" y="8.500"><tspan x="3.500">Scheduler App</tspan><tspan x="3.500" dy="6.500">(Map &amp; Calendar)</tspan></text></g>
<g id="t14" class="k" transform="translate(1470.700 649)"><rect width="43.300" height="43.300"/><text class="n" y="8.500"><tspan x="3.500">Field Portal</tspan><tspan x="3.500" dy="6.500">(mobile app)</tspan></text></g>
<g id="t15" class="k" transform="translate(2223.300 649)"><rect width="43.300" height="43.300"/><text class="n" y="8.500"><tspan x="3.500">Field Portal</tspan><tspan x="3.500" dy="6.500">(mobile app)</tspan></text></g>
<g id="t16" class="k" transform="translate(2423.700 650)"><rect width="43.300" height="43.300"/><text class="n" x="3.500" y="8.500">Prism</text></g>

<g id="note-1" class="e" transform="translate(380.300 679)"><rect width="75.700" height="44"/><text class="n" y="8.500"><tspan x="4">Coordinator will keep 2 tabs open</tspan><tspan x="4" dy="6.500">to see both Calendar and Map</tspan><tspan x="4" dy="6.500">View, or switch between</tspan></text></g>
<g id="note-2" class="e" transform="translate(870 715)"><rect width="75" height="44"/><text class="n" y="8.500"><tspan x="4">Coordinator can schedule from</tspan><tspan x="4" dy="6.500">either view in Scheduler</tspan></text></g>
</svg>
